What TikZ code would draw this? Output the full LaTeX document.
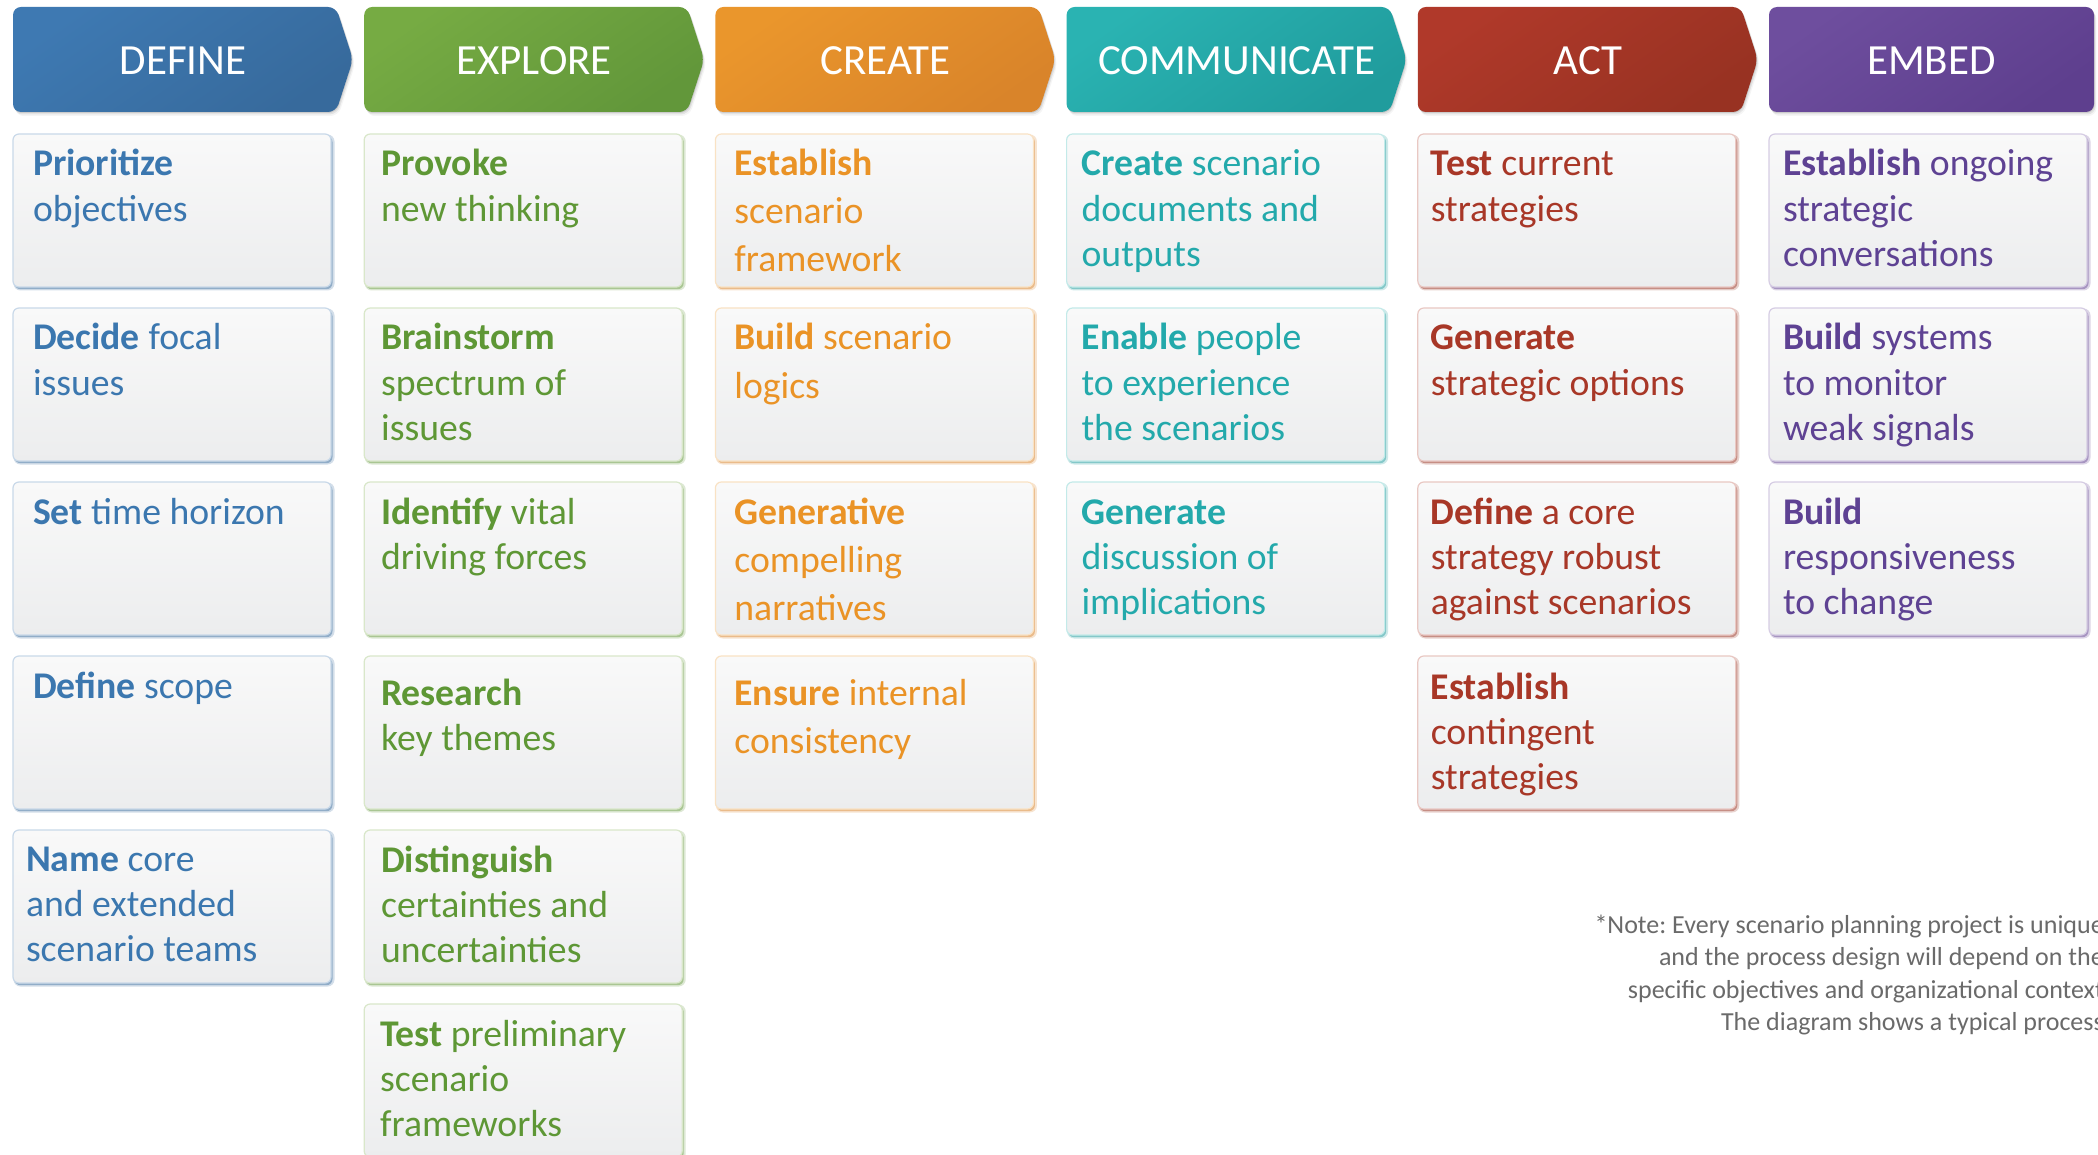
\documentclass[tikz,border=0pt]{standalone}
\usepackage{fontspec}
\setmainfont{Carlito}
\usetikzlibrary{calc}
\frenchspacing

% phase colours: L = light end of header shading, D = dark end, T = text
\definecolor{defineL}{HTML}{3E79B2}\definecolor{defineD}{HTML}{376A9C}\definecolor{defineT}{HTML}{3B77AF}
\definecolor{exploreL}{HTML}{76AB43}\definecolor{exploreD}{HTML}{62973A}\definecolor{exploreT}{HTML}{5E9735}
\definecolor{createL}{HTML}{EA962C}\definecolor{createD}{HTML}{D9842A}\definecolor{createT}{HTML}{EA9326}
\definecolor{commL}{HTML}{2AB3B2}\definecolor{commD}{HTML}{209C9D}\definecolor{commT}{HTML}{23A9AB}
\definecolor{actL}{HTML}{B0392A}\definecolor{actD}{HTML}{983222}\definecolor{actT}{HTML}{A83727}
\definecolor{embedL}{HTML}{6E4E9E}\definecolor{embedD}{HTML}{5E3F8E}\definecolor{embedT}{HTML}{5E4293}
\definecolor{cardtop}{HTML}{F9F9F9}
\definecolor{cardbot}{HTML}{ECEDEE}
\definecolor{notegray}{HTML}{6A6A6A}

% left-aligned stack of lines, baseline on the first line
\newcommand\linesof[1]{\vtop{\halign{##\hfil\cr#1\crcr}}}
% right-aligned stack of lines, baseline on the first line
\newcommand\rlinesof[1]{\vtop{\halign{\hfil##\cr#1\crcr}}}

\tikzset{
  cardbox/.style={rectangle, rounded corners=6pt, minimum width=318pt,
    minimum height=153pt, inner sep=0pt, outer sep=0pt, anchor=north west,
    top color=cardtop, bottom color=cardbot, line width=1.2pt},
  cardtext/.style={anchor=base west, inner sep=0pt, outer sep=0pt},
  headtext/.style={anchor=base, inner sep=0pt, text=white,
    font=\fontsize{43}{50}\selectfont},
  notetext/.style={anchor=base east, inner sep=0pt, text=notegray,
    font=\fontsize{26}{32.5}\selectfont},
}

% #1 name, #2 column, #3 row, #4 colour prefix, #5 text inset,
% #6 first baseline below top, #7 baselineskip, #8 lines
\newcommand\card[8]{%
  \coordinate (#1-nw) at (13+351.2*#2, 134+174*#3);
  \fill[#4D!22!white, rounded corners=7pt] ($(#1-nw)+(0.5,0.5)$) rectangle ++(321,156);
  \fill[#4D!55!white, rounded corners=6pt] ($(#1-nw)+(1.5,2.2)$) rectangle ++(318,153);
  \node[cardbox, draw=#4L!28!white] (#1) at (#1-nw) {};
  \node[cardtext, text=#4T, font=\fontsize{37.7}{#7}\selectfont] (#1-t)
    at ($(#1.north west)+(#5,#6)$) {\linesof{#8}};
}

\begin{document}
\begin{tikzpicture}[x=1pt, y=-1pt]
\useasboundingbox (0,0) rectangle (2098,1155);
\fill[white] (0,0) rectangle (2098,1155);
\clip (0,0) rectangle (2098,1155);

% ---- phase headers (chevrons) ----
\foreach \i/\nm/\lab in {0/define/DEFINE, 1/explore/EXPLORE, 2/create/CREATE,
                        3/comm/COMMUNICATE, 4/act/ACT}{
  \pgfmathsetmacro\xa{13+351.2*\i}
  \foreach \o/\op in {1/0.10, 2.5/0.07, 4/0.04}{
    \fill[black, opacity=\op, rounded corners=8pt]
      (\xa+\o*0.6,7+\o) -- ++(323,0) -- ++(17,52.5) -- ++(-17,52.5) -- ++(-323,0) -- cycle;
  }
  \path[rounded corners=8pt, top color=\nm L, bottom color=\nm D, shading angle=35]
    (\xa,7) -- ++(323,0) -- ++(17,52.5) -- ++(-17,52.5) -- ++(-323,0) -- cycle;
  \node[headtext] (h-\nm) at (\xa+170,75) {\lab};
}
% last phase header has no pointer
\foreach \o/\op in {1/0.10, 2.5/0.07, 4/0.04}{
  \fill[black, opacity=\op, rounded corners=8pt] (1769+\o*0.6,7+\o) rectangle ++(325,105);
}
\path[rounded corners=8pt, top color=embedL, bottom color=embedD, shading angle=35]
  (1769,7) rectangle (2094,112);
\node[headtext] (h-embed) at (1931.5,75) {EMBED};

% ---- DEFINE ----
\card{d1}{0}{0}{define}{20}{42}{45.3}{\textbf{Prioritize}\cr objectives}
\card{d2}{0}{1}{define}{20}{42}{45.3}{\textbf{Decide} focal\cr issues}
\card{d3}{0}{2}{define}{20}{42}{45.3}{\textbf{Set} time horizon}
\card{d4}{0}{3}{define}{20}{42}{45.3}{\textbf{Define} scope}
\card{d5}{0}{4}{define}{13}{41}{45.3}{\textbf{Name} core\cr and extended\cr scenario teams}

% ---- EXPLORE ----
\card{x1}{1}{0}{explore}{17}{42}{45.3}{\textbf{Provoke}\cr new thinking}
\card{x2}{1}{1}{explore}{17}{42}{45.3}{\textbf{Brainstorm}\cr spectrum of\cr issues}
\card{x3}{1}{2}{explore}{17}{42}{45.3}{\textbf{Identify} vital\cr driving forces}
\card{x4}{1}{3}{explore}{17}{49}{45.3}{\textbf{Research}\cr key themes}
\card{x5}{1}{4}{explore}{17}{42}{45.3}{\textbf{Distinguish}\cr certainties and\cr uncertainties}
\card{x6}{1}{5}{explore}{16}{42}{45.3}{\textbf{Test} preliminary\cr scenario\cr frameworks}

% ---- CREATE ----
\card{c1}{2}{0}{create}{19}{42}{48}{\textbf{Establish}\cr scenario\cr framework}
\card{c2}{2}{1}{create}{19}{42}{48}{\textbf{Build} scenario\cr logics}
\card{c3}{2}{2}{create}{19}{42}{48}{\textbf{Generative}\cr compelling\cr narratives}
\card{c4}{2}{3}{create}{19}{49}{48}{\textbf{Ensure} internal\cr consistency}

% ---- COMMUNICATE ----
\card{m1}{3}{0}{comm}{15}{42}{45.3}{\textbf{Create} scenario\cr documents and\cr outputs}
\card{m2}{3}{1}{comm}{15}{42}{45.3}{\textbf{Enable} people\cr to experience\cr the scenarios}
\card{m3}{3}{2}{comm}{15}{42}{45.3}{\textbf{Generate}\cr discussion of\cr implications}

% ---- ACT ----
\card{a1}{4}{0}{act}{13}{42}{45.3}{\textbf{Test} current\cr strategies}
\card{a2}{4}{1}{act}{13}{42}{45.3}{\textbf{Generate}\cr strategic options}
\card{a3}{4}{2}{act}{13}{42}{45.3}{\textbf{Define} a core\cr strategy robust\cr against scenarios}
\card{a4}{4}{3}{act}{13}{43}{45.3}{\textbf{Establish}\cr contingent\cr strategies}

% ---- EMBED ----
\card{e1}{5}{0}{embed}{14}{42}{45.3}{\textbf{Establish} ongoing\cr strategic\cr conversations}
\card{e2}{5}{1}{embed}{14}{42}{45.3}{\textbf{Build} systems\cr to monitor\cr weak signals}
\card{e3}{5}{2}{embed}{14}{42}{45.3}{\textbf{Build}\cr responsiveness\cr to change}

% ---- note ----
\node[notetext] (note) at (2104,933) {\rlinesof{*Note: Every scenario planning project is unique\cr
  and the process design will depend on the\cr
  specific objectives and organizational context\cr
  The diagram shows a typical process}};
\end{tikzpicture}
\end{document}
